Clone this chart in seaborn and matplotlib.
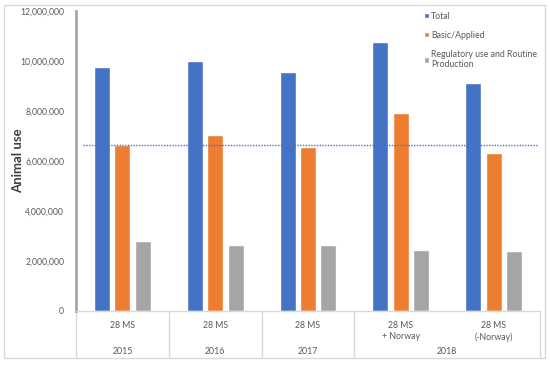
import pandas as pd
import matplotlib
matplotlib.use('Agg')
import matplotlib.pyplot as plt
import seaborn as sns
from matplotlib.ticker import FuncFormatter
from matplotlib.patches import Rectangle
import matplotlib.transforms as mtransforms

# Data
categories = ['2015', '2016', '2017', '2018 + Norway', '2018 (-Norway)']
inner_labels = ['28 MS', '28 MS', '28 MS', '28 MS\n+ Norway', '28 MS\n(-Norway)']
years = ['2015', '2016', '2017', '2018']
year_spans = [(0, 0), (1, 1), (2, 2), (3, 4)]
series = ['Total', 'Basic/Applied', 'Regulatory use and Routine\nProduction']
total = [9760000, 10000000, 9560000, 10780000, 9120000]
basic = [6640000, 7040000, 6560000, 7920000, 6320000]
regulatory = [2790000, 2640000, 2640000, 2450000, 2410000]
reference_level = 6640000

colors = ['#4472C4', '#ED7D31', '#A5A5A5']

rows = []
for name, vals in zip(series, [total, basic, regulatory]):
    for cat, v in zip(categories, vals):
        rows.append({'Category': cat, 'Series': name, 'Animals': v})
df = pd.DataFrame(rows)

sns.set_style('white')
plt.rcParams['font.family'] = ['Lato', 'DejaVu Sans']

fig = plt.figure(figsize=(5.5, 3.65), dpi=100)
ax = fig.add_axes([76 / 550, 1 - 311 / 365, 464 / 550, 300 / 365])

sns.barplot(data=df, x='Category', y='Animals', hue='Series', order=categories,
            hue_order=series, palette=colors, width=0.66, gap=0.22,
            saturation=1, ax=ax)

ax.axhline(reference_level, xmin=0.015, xmax=0.995, color='#4472C4',
           linestyle=(0, (1, 1)), linewidth=1)

ax.set_xlim(-0.5, len(categories) - 0.5)
ax.set_ylim(0, 12000000)
ax.set_yticks(range(0, 12000001, 2000000))
ax.yaxis.set_major_formatter(FuncFormatter(lambda v, p: f'{int(v):,}'))
ax.tick_params(axis='y', labelsize=6.2, colors='#595959', length=0, pad=8.5)
ax.set_xticks(range(len(categories)))
ax.set_xticklabels(inner_labels, fontsize=6.3, color='#595959', va='top',
                   linespacing=1.35)
ax.tick_params(axis='x', length=0, pad=7)
ax.set_xlabel('')
ax.set_ylabel('Animal use', fontsize=9.5, fontweight='bold', color='#404040')
ax.yaxis.set_label_coords(-52 / 464, 0.5)

for side in ['top', 'right']:
    ax.spines[side].set_visible(False)
ax.spines['left'].set_color('#A6A6A6')
ax.spines['left'].set_linewidth(2)
ax.spines['bottom'].set_color('#D9D9D9')
ax.spines['bottom'].set_linewidth(1)

# two-level category axis
trans = mtransforms.blended_transform_factory(ax.transData, ax.transAxes)
sep_bottom = -46 / 300
for xb in [-0.5, 0.5, 1.5, 2.5, 4.5]:
    ax.plot([xb, xb], [0, sep_bottom], transform=trans, color='#D9D9D9',
            linewidth=1, clip_on=False)
for year, (a, b) in zip(years, year_spans):
    ax.text((a + b) / 2, -40 / 300, year, transform=trans, ha='center',
            va='center', fontsize=6.3, color='#595959')

leg = ax.legend(loc='upper left', bbox_to_anchor=(416 / 550, 1 - 4 / 365),
                bbox_transform=fig.transFigure, frameon=False, fontsize=6.3,
                labelspacing=1.15, handlelength=0.55, handleheight=0.55,
                handletextpad=0.3, labelcolor='#595959')

fig.patches.append(Rectangle((4 / 550, 1 - 358 / 365), 541 / 550, 353 / 365,
                             transform=fig.transFigure, fill=False,
                             edgecolor='#D9D9D9', linewidth=1))

fig.savefig('out.png', dpi=100)
